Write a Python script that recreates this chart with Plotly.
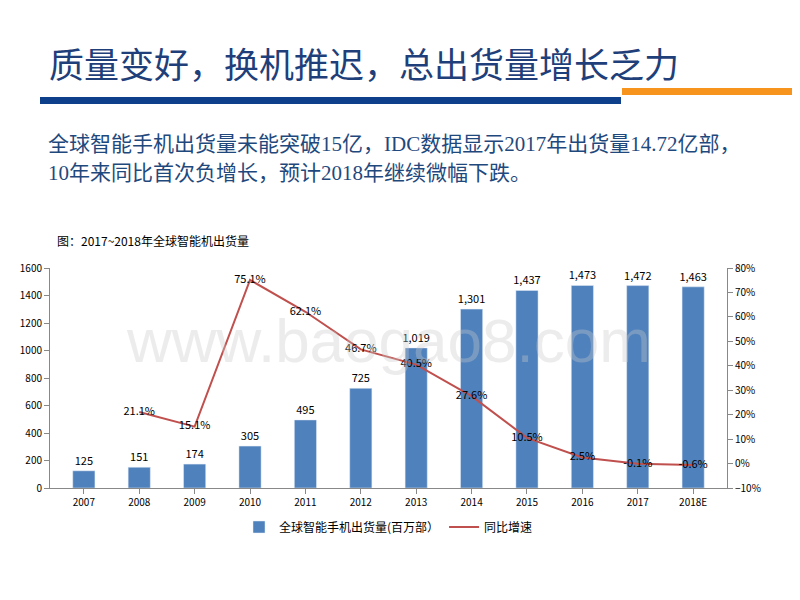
import plotly.graph_objects as go

years = ["2007", "2008", "2009", "2010", "2011", "2012", "2013", "2014", "2015", "2016", "2017", "2018E"]
shipments = [125, 151, 174, 305, 495, 725, 1019, 1301, 1437, 1473, 1472, 1463]
growth = [None, 21.1, 15.1, 75.1, 62.1, 46.7, 40.5, 27.6, 10.5, 2.5, -0.1, -0.6]
growth_labels = ["", "21.1%", "15.1%", "75.1%", "62.1%", "46.7%", "40.5%", "27.6%", "10.5%", "2.5%", "-0.1%", "-0.6%"]

# page body has an 8px margin, so work in shifted pixel coordinates
OFF = 8
W, H = 800 - 2 * OFF, 600 - 2 * OFF
L, R, T, B = 50 - OFF, 727 - OFF, 268 - OFF, 488 - OFF


def px(x):
    return (x - OFF - L) / (R - L)


def py(y):
    return (B - (y - OFF)) / (B - T)


fig = go.Figure()

fig.add_trace(go.Bar(
    x=years, y=shipments, name="全球智能手机出货量(百万部）",
    marker=dict(color="#4f81bd"), width=0.4,
    text=[f"{v:,}" for v in shipments], textposition="outside",
    textfont=dict(size=11, color="black"), cliponaxis=False, constraintext="none",
))

fig.add_trace(go.Scatter(
    x=years, y=growth, name="同比增速", yaxis="y2", mode="lines+text",
    line=dict(color="#c0504d", width=2),
    text=growth_labels, textposition="middle center",
    textfont=dict(size=11, color="black"),
))

fig.update_layout(
    width=W, height=H, autosize=False,
    paper_bgcolor="white", plot_bgcolor="white",
    font=dict(family="Noto Sans CJK SC", color="black"),
    margin=dict(l=L, r=W - R, t=T, b=H - B, pad=0, autoexpand=False),
    xaxis=dict(showline=True, linecolor="#888", ticks="outside", tickcolor="#888",
               tickfont=dict(size=10), showgrid=False, automargin=False),
    yaxis=dict(range=[0, 1600], dtick=200, showline=True, linecolor="#888",
               ticks="outside", tickcolor="#888", showgrid=False, zeroline=False,
               tickfont=dict(size=10), automargin=False),
    yaxis2=dict(range=[-10, 80], dtick=10, ticksuffix="%", overlaying="y", side="right",
                showline=True, linecolor="#888", ticks="outside", tickcolor="#888",
                showgrid=False, zeroline=False, tickfont=dict(size=10), automargin=False),
    legend=dict(orientation="h", x=0.5, xanchor="center", yref="container",
                y=1 - (527 - OFF) / H, yanchor="middle", font=dict(size=12)),
    shapes=[
        dict(type="rect", xref="paper", yref="paper", x0=px(40), x1=px(621),
             y0=py(104), y1=py(97), fillcolor="#0e3f8a", line=dict(width=0)),
        dict(type="rect", xref="paper", yref="paper", x0=px(622), x1=px(800),
             y0=py(95), y1=py(88), fillcolor="#f7941d", line=dict(width=0)),
    ],
    annotations=[
        dict(text="质量变好，换机推迟，总出货量增长乏力", xref="paper", yref="paper",
             x=px(47), y=py(62), xanchor="left", yanchor="middle", showarrow=False,
             font=dict(size=35, color="#1f3f7a", family="Noto Sans CJK SC")),
        dict(text="全球智能手机出货量未能突破15亿，IDC数据显示2017年出货量14.72亿部，",
             xref="paper", yref="paper", x=px(46), y=py(144), xanchor="left",
             yanchor="middle", showarrow=False,
             font=dict(size=21, color="#1f497d", family="Liberation Serif, Noto Sans CJK SC")),
        dict(text="10年来同比首次负增长，预计2018年继续微幅下跌。",
             xref="paper", yref="paper", x=px(46), y=py(173), xanchor="left",
             yanchor="middle", showarrow=False,
             font=dict(size=21, color="#1f497d", family="Liberation Serif, Noto Sans CJK SC")),
        dict(text="图：2017~2018年全球智能机出货量", xref="paper", yref="paper",
             x=px(55), y=py(240), xanchor="left", yanchor="middle", showarrow=False,
             font=dict(size=12, color="black")),
        dict(text="www.baogao8.com", xref="paper", yref="paper",
             x=px(388), y=py(340), xanchor="center", yanchor="middle", showarrow=False,
             font=dict(size=62, color="rgba(200,200,200,0.35)", family="Liberation Sans")),
    ],
)

fig.write_html("out.html")
